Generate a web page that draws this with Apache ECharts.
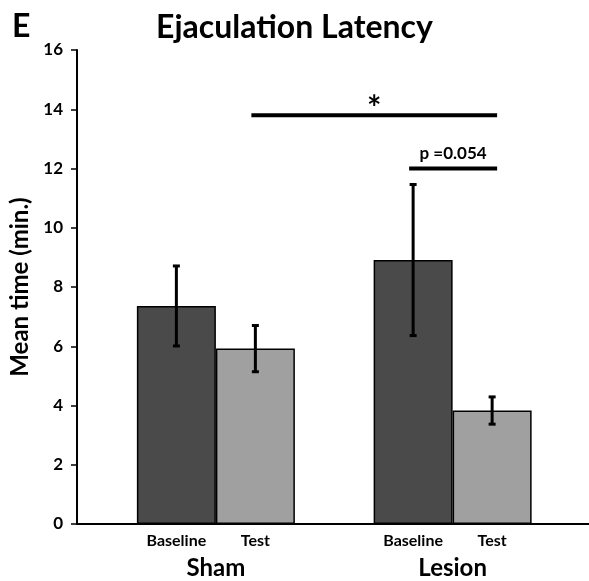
<!DOCTYPE html>
<html>
<head>
<meta charset="utf-8">
<script src="https://cdn.jsdelivr.net/npm/echarts@6/dist/echarts.min.js"></script>
<style>
  html, body { margin: 0; padding: 0; background: #fff; }
  #chart { width: 589px; height: 581px; }
</style>
</head>
<body>
<div id="chart"></div>
<script>
const groups = ['Sham', 'Lesion'];
const baseline = [7.36, 8.91];
const baselineErr = [1.35, 2.55];
const test = [5.92, 3.83];
const testErr = [0.78, 0.46];
const yTicks = [0, 16, 2];
// significance bars: [group, side(-1 baseline / 1 test)] -> [group, side], height
const sigFrom = [[0, 1], [1, -1]];
const sigTo = [[1, 1], [1, 1]];
const sigY = [13.8, 12];
const sigText = ['*', 'p =0.054'];

const font = 'Lato, "Open Sans", sans-serif';
const barWidth = 79;

const errData = (vals, errs) => vals.map((v, i) => [i, v - errs[i], v + errs[i]]);

const errorBars = (side) => (params, api) => {
  const c = api.value(0);
  const x = api.coord([c, 0])[0] + side * barWidth / 2;
  const lo = api.coord([c, api.value(1)])[1];
  const hi = api.coord([c, api.value(2)])[1];
  const style = { stroke: '#000', lineWidth: 3 };
  return {
    type: 'group',
    children: [
      { type: 'line', shape: { x1: x, y1: lo, x2: x, y2: hi }, style: style },
      { type: 'line', shape: { x1: x - 3.5, y1: hi, x2: x + 3.5, y2: hi }, style: style },
      { type: 'line', shape: { x1: x - 3.5, y1: lo, x2: x + 3.5, y2: lo }, style: style }
    ]
  };
};

const sigData = sigY.map((y, i) => [sigFrom[i][0], sigFrom[i][1], sigTo[i][0], sigTo[i][1], y, i]);

const sigItem = (params, api) => {
  const y = api.coord([0, api.value(4)])[1];
  const x1 = api.coord([api.value(0), 0])[0] + api.value(1) * barWidth / 2 - 4;
  const x2 = api.coord([api.value(2), 0])[0] + api.value(3) * barWidth / 2 + 5;
  const txt = sigText[api.value(5)];
  const star = txt === '*';
  return {
    type: 'group',
    children: [
      { type: 'line', shape: { x1: x1, y1: y, x2: x2, y2: y }, style: { stroke: '#000', lineWidth: 4 } },
      {
        type: 'text',
        style: {
          text: txt,
          x: (x1 + x2) / 2,
          y: star ? y + 11 : y - 6,
          align: 'center',
          verticalAlign: 'bottom',
          font: 'bold ' + (star ? 34 : 17) + 'px ' + font,
          fill: '#000'
        }
      }
    ]
  };
};

const chart = echarts.init(document.getElementById('chart'));
chart.setOption({
  animation: false,
  backgroundColor: '#fff',
  title: [
    {
      text: 'Ejaculation Latency',
      left: 'center',
      top: 7,
      textStyle: { fontFamily: font, fontWeight: 'bold', fontSize: 32, color: '#000' }
    },
    {
      text: 'E',
      left: 7,
      top: 6,
      textStyle: { fontFamily: font, fontWeight: 'bold', fontSize: 32, color: '#000' }
    }
  ],
  grid: [
    { left: 77, right: 0, top: 50, bottom: 57 },
    { left: 97.5, right: 18, top: 50, bottom: 57 }
  ],
  xAxis: [
    {
      gridIndex: 0,
      type: 'category',
      data: [''],
      axisLine: { lineStyle: { color: '#000', width: 2 } },
      axisTick: { show: false },
      axisLabel: { show: false }
    },
    {
      gridIndex: 1,
      type: 'category',
      data: groups,
      axisLine: { show: false },
      axisTick: { show: false },
      axisLabel: {
        margin: 32,
        fontFamily: font,
        fontWeight: 'bold',
        fontSize: 24,
        color: '#000'
      }
    }
  ],
  yAxis: [
    {
      gridIndex: 0,
      type: 'value',
      min: yTicks[0],
      max: yTicks[1],
      interval: yTicks[2],
      name: 'Mean time (min.)',
      nameLocation: 'middle',
      nameGap: 43,
      nameTextStyle: { fontFamily: font, fontWeight: 'bold', fontSize: 24, color: '#000' },
      axisLine: { show: true, lineStyle: { color: '#000', width: 2 } },
      axisTick: { show: true, length: 6, lineStyle: { color: '#000', width: 1.5 } },
      splitLine: { show: false },
      axisLabel: { margin: 14, fontFamily: font, fontWeight: 'bold', fontSize: 17, color: '#000' }
    },
    {
      gridIndex: 1,
      type: 'value',
      min: yTicks[0],
      max: yTicks[1],
      show: false
    }
  ],
  series: [
    {
      name: 'Baseline',
      type: 'bar',
      xAxisIndex: 1,
      yAxisIndex: 1,
      data: baseline,
      barWidth: barWidth,
      barGap: 0,
      itemStyle: { color: '#4a4a4a', borderColor: '#000', borderWidth: 1.5 },
      label: {
        show: true,
        position: 'bottom',
        distance: 9,
        formatter: '{a}',
        fontFamily: font,
        fontWeight: 'bold',
        fontSize: 16,
        color: '#000'
      }
    },
    {
      name: 'Test',
      type: 'bar',
      xAxisIndex: 1,
      yAxisIndex: 1,
      data: test,
      barWidth: barWidth,
      barGap: 0,
      itemStyle: { color: '#a0a0a0', borderColor: '#000', borderWidth: 1.5 },
      label: {
        show: true,
        position: 'bottom',
        distance: 9,
        formatter: '{a}',
        fontFamily: font,
        fontWeight: 'bold',
        fontSize: 16,
        color: '#000'
      }
    },
    {
      type: 'custom',
      xAxisIndex: 1,
      yAxisIndex: 1,
      renderItem: errorBars(-1),
      data: errData(baseline, baselineErr),
      z: 10
    },
    {
      type: 'custom',
      xAxisIndex: 1,
      yAxisIndex: 1,
      renderItem: errorBars(1),
      data: errData(test, testErr),
      z: 10
    },
    {
      type: 'custom',
      xAxisIndex: 1,
      yAxisIndex: 1,
      renderItem: sigItem,
      data: sigData,
      z: 10
    }
  ]
});
</script>
</body>
</html>
